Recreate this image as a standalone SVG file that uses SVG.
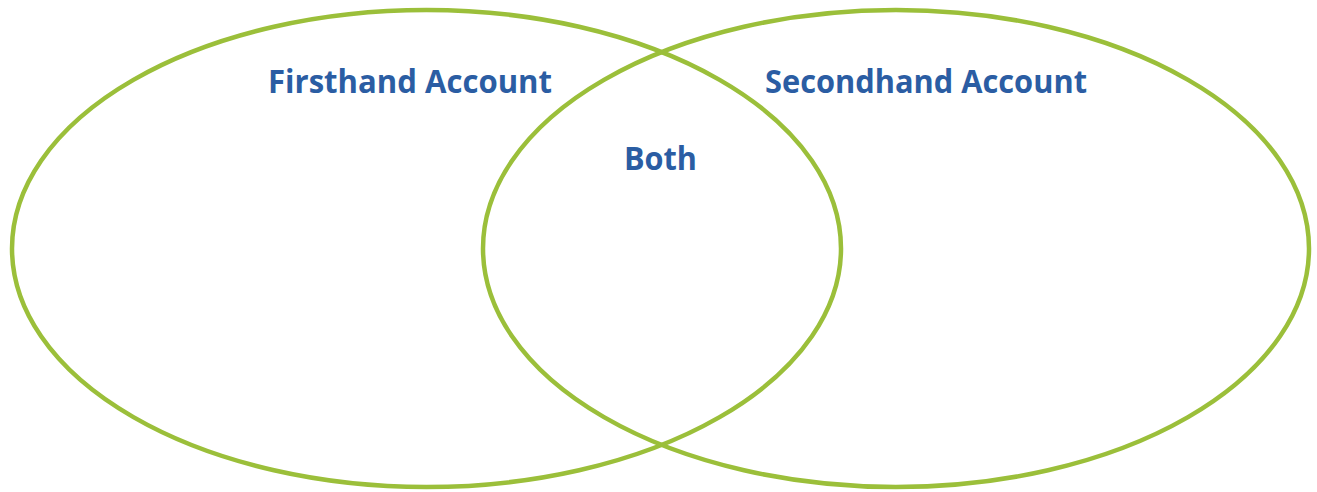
<svg xmlns="http://www.w3.org/2000/svg" width="1317" height="492" viewBox="0 0 1317 492">
<style>
.ring{fill:none;stroke:#9BBF3A;stroke-width:4.5}
.lbl{font-family:"Open Sans","Liberation Sans",sans-serif;font-weight:bold;font-size:33px;fill:#2B5DA3;text-anchor:middle}
</style>
<rect width="1317" height="492" fill="#ffffff"/>
<g id="firsthand">
<ellipse class="ring" cx="426.5" cy="248.5" rx="414.5" ry="238.5"/>
<text class="lbl" x="410" y="93" textLength="284" lengthAdjust="spacingAndGlyphs">Firsthand Account</text>
</g>
<g id="secondhand">
<ellipse class="ring" cx="896" cy="248.5" rx="413" ry="238.5"/>
<text class="lbl" x="926" y="93" textLength="322" lengthAdjust="spacingAndGlyphs">Secondhand Account</text>
</g>
<g id="both">
<text class="lbl" x="660.5" y="170" textLength="73" lengthAdjust="spacingAndGlyphs">Both</text>
</g>
<g id="connectors"></g>
</svg>
